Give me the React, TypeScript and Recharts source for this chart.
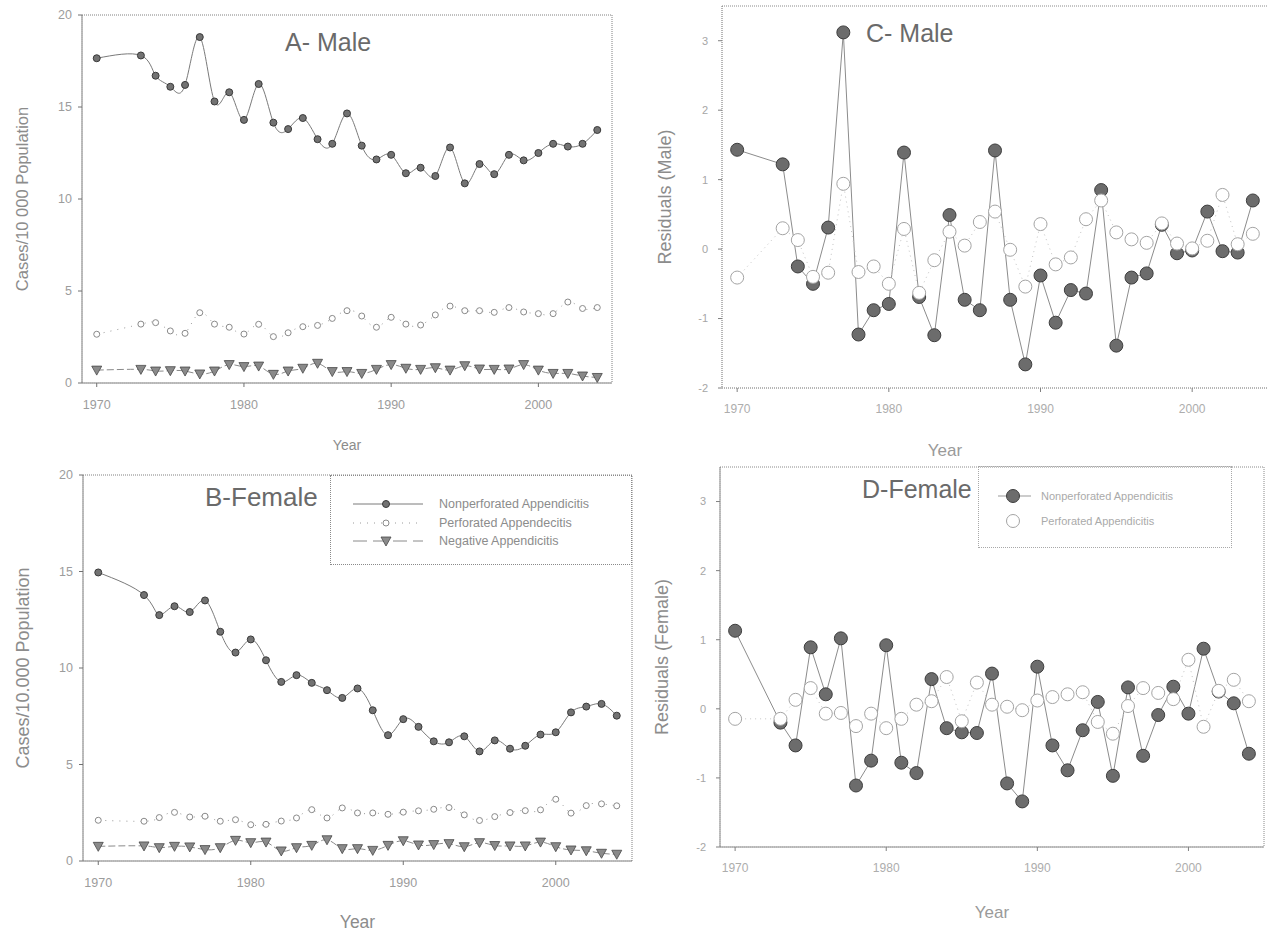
import React from "react"
import { LineChart, Line, XAxis, YAxis, ReferenceArea, ReferenceLine, Legend } from "recharts"

// years with data (1971 and 1972 are missing in the source)
const years = [
  1970, 1973, 1974, 1975, 1976, 1977, 1978, 1979, 1980, 1981, 1982, 1983, 1984, 1985, 1986, 1987, 1988,
  1989, 1990, 1991, 1992, 1993, 1994, 1995, 1996, 1997, 1998, 1999, 2000, 2001, 2002, 2003, 2004,
]

// A - male, cases / 10 000
const maleNonperf = [
  17.65, 17.8, 16.7, 16.1, 16.2, 18.8, 15.3, 15.8, 14.3, 16.25, 14.15, 13.8, 14.4, 13.25, 13.0, 14.65, 12.9,
  12.15, 12.4, 11.4, 11.7, 11.25, 12.8, 10.85, 11.9, 11.35, 12.4, 12.1, 12.5, 13.0, 12.85, 13.0, 13.75,
]
const malePerf = [
  2.65, 3.2, 3.28, 2.83, 2.7, 3.82, 3.2, 3.03, 2.66, 3.19, 2.52, 2.73, 3.06, 3.13, 3.51, 3.93, 3.64,
  3.03, 3.57, 3.2, 3.15, 3.7, 4.18, 3.93, 3.93, 3.84, 4.1, 3.86, 3.77, 3.77, 4.4, 4.05, 4.1,
]
const maleNeg = [
  0.7, 0.74, 0.65, 0.67, 0.65, 0.49, 0.65, 1.0, 0.89, 0.92, 0.47, 0.65, 0.8, 1.07, 0.62, 0.62, 0.52,
  0.74, 1.0, 0.8, 0.74, 0.83, 0.7, 0.94, 0.76, 0.74, 0.76, 1.0, 0.7, 0.52, 0.52, 0.38, 0.3,
]

// B - female, cases / 10 000
const femaleNonperf = [
  14.95, 13.78, 12.74, 13.2, 12.9, 13.5, 11.88, 10.8, 11.48, 10.4, 9.28, 9.63, 9.23, 8.85, 8.45, 8.94, 7.81,
  6.52, 7.35, 6.95, 6.2, 6.15, 6.46, 5.68, 6.25, 5.82, 5.97, 6.55, 6.67, 7.7, 8.0, 8.14, 7.53,
]
const femalePerf = [
  2.11, 2.06, 2.25, 2.52, 2.28, 2.32, 2.06, 2.14, 1.88, 1.9, 2.07, 2.23, 2.66, 2.23, 2.75, 2.49, 2.49,
  2.42, 2.53, 2.6, 2.68, 2.77, 2.39, 2.1, 2.3, 2.51, 2.61, 2.65, 3.2, 2.48, 2.87, 2.96, 2.86,
]
const femaleNeg = [
  0.76, 0.78, 0.69, 0.76, 0.73, 0.59, 0.69, 1.07, 0.95, 0.98, 0.52, 0.69, 0.81, 1.1, 0.64, 0.64, 0.55,
  0.81, 1.05, 0.83, 0.85, 0.9, 0.74, 0.95, 0.8, 0.78, 0.78, 0.98, 0.74, 0.57, 0.53, 0.4, 0.35,
]

// C - male residuals
const maleResNonperf = [
  1.43, 1.22, -0.25, -0.5, 0.31, 3.12, -1.23, -0.88, -0.79, 1.39, -0.69, -1.24, 0.49, -0.73, -0.88, 1.42, -0.73,
  -1.66, -0.38, -1.06, -0.59, -0.64, 0.85, -1.39, -0.41, -0.35, 0.35, -0.06, -0.02, 0.54, -0.03, -0.05, 0.7,
]
const maleResPerf = [
  -0.41, 0.3, 0.13, -0.4, -0.34, 0.94, -0.33, -0.25, -0.5, 0.29, -0.63, -0.16, 0.25, 0.05, 0.39, 0.54, -0.01,
  -0.54, 0.36, -0.22, -0.12, 0.43, 0.7, 0.24, 0.14, 0.09, 0.37, 0.08, 0.01, 0.12, 0.78, 0.07, 0.22,
]

// D - female residuals
const femaleResNonperf = [
  1.13, -0.2, -0.53, 0.89, 0.21, 1.02, -1.11, -0.75, 0.92, -0.78, -0.93, 0.43, -0.28, -0.34, -0.35, 0.51, -1.08,
  -1.34, 0.61, -0.53, -0.89, -0.31, 0.1, -0.97, 0.31, -0.68, -0.09, 0.32, -0.07, 0.87, 0.25, 0.08, -0.65,
]
const femaleResPerf = [
  -0.145, -0.145, 0.13, 0.3, -0.07, -0.06, -0.25, -0.07, -0.28, -0.145, 0.06, 0.11, 0.46, -0.18, 0.38, 0.06, 0.03,
  -0.02, 0.12, 0.17, 0.21, 0.24, -0.19, -0.36, 0.04, 0.3, 0.23, 0.14, 0.71, -0.26, 0.26, 0.42, 0.11,
]

const rateKeys = ["nonperf", "perf", "neg"]
const rateNames = ["Nonperforated Appendicitis", "Perforated Appendecitis", "Negative Appendicitis"]
const residualNames = ["Nonperforated Appendicitis", "Perforated Appendicitis"]
const yearTicks = [1970, 1980, 1990, 2000]
const rateTicks = [0, 5, 10, 15, 20]
const residualTicks = [-2, -1, 0, 1, 2, 3]

const font = "'Liberation Sans', Arial, Helvetica, sans-serif"
const axisStroke = { stroke: "#6e6e6e", strokeDasharray: "1 1" }

const rateRows = (a: number[], b: number[], c: number[]) =>
  years.map((year, i) => ({ year, nonperf: a[i], perf: b[i], neg: c[i] }))
const residualRows = (a: number[], b: number[]) =>
  years.map((year, i) => ({ year, nonperf: a[i], perf: b[i] }))

const smallDot = { r: 3.5, fill: "#727272", stroke: "#3a3a3a", strokeWidth: 1, strokeDasharray: "none" }
const smallOpen = { r: 3, fill: "#fff", stroke: "#8a8a8a", strokeWidth: 1, strokeDasharray: "none" }
const bigDot = { r: 6.5, fill: "#6c6c6c", stroke: "#3e3e3e", strokeWidth: 1, strokeDasharray: "none" }
const bigOpen = { r: 6.5, fill: "#fff", stroke: "#a4a4a4", strokeWidth: 1, strokeDasharray: "none" }

function Tri({ cx, cy }: { cx?: number; cy?: number }) {
  if (cx == null || cy == null) return null
  return (
    <path
      d={`M${cx - 5},${cy - 4}L${cx + 5},${cy - 4}L${cx},${cy + 5}Z`}
      fill="#8a8a8a"
      stroke="#484848"
      strokeWidth={0.8}
      strokeDasharray="none"
    />
  )
}

function RateLegendBox() {
  return (
    <div style={{ width: 302, height: 90, border: "1px dotted #8a8a8a", boxSizing: "border-box", paddingTop: 19, fontFamily: font }}>
      {rateKeys.map((key, i) => (
        <div key={key} style={{ display: "flex", alignItems: "center", height: 18.5 }}>
          <svg width={108} height={14} style={{ flex: "none" }}>
            {key === "nonperf" && (
              <g>
                <line x1={22} x2={92} y1={7} y2={7} stroke="#7a7a7a" />
                <circle cx={55} cy={7} r={3.5} fill="#727272" stroke="#3a3a3a" />
              </g>
            )}
            {key === "perf" && (
              <g>
                <line x1={22} x2={92} y1={7} y2={7} stroke="#9a9a9a" strokeDasharray="1 6" />
                <circle cx={55} cy={7} r={3} fill="#fff" stroke="#8a8a8a" />
              </g>
            )}
            {key === "neg" && (
              <g>
                <line x1={22} x2={92} y1={7} y2={7} stroke="#8a8a8a" strokeDasharray="14 6" />
                <Tri cx={55} cy={7} />
              </g>
            )}
          </svg>
          <span style={{ fontSize: 12.5, color: "#8c8c8c", whiteSpace: "nowrap" }}>{rateNames[i]}</span>
        </div>
      ))}
    </div>
  )
}

function ResidualLegendBox() {
  return (
    <div style={{ width: 254, height: 82, border: "1px dotted #a8a8a8", boxSizing: "border-box", paddingTop: 16, fontFamily: font }}>
      {residualNames.map((name, i) => (
        <div key={name} style={{ display: "flex", alignItems: "center", height: 25 }}>
          <svg width={62} height={18} style={{ flex: "none" }}>
            {i === 0 ? (
              <g>
                <line x1={19} x2={52} y1={9} y2={9} stroke="#999" />
                <circle cx={34} cy={9} r={6.5} fill="#6c6c6c" stroke="#3e3e3e" />
              </g>
            ) : (
              <circle cx={34} cy={9} r={6.5} fill="#fff" stroke="#a4a4a4" />
            )}
          </svg>
          <span style={{ fontSize: 11, color: "#aaaaaa", whiteSpace: "nowrap" }}>{name}</span>
        </div>
      ))}
    </div>
  )
}

type Box = { left: number; top: number; width: number; height: number }
type Margin = { top: number; right: number; left: number; bottom: number }

function RatePanel(props: {
  rows: any[]; box: Box; margin: Margin; yWidth: number; xHeight: number
  yTitle: string; yTitleSize: number; yTitleOffset: number
  yearSize: number; yearOffset: number; legend?: boolean
}) {
  const { rows, box, margin, yWidth, xHeight, yTitle, yTitleSize, yTitleOffset, yearSize, yearOffset, legend } = props
  return (
    <div style={{ position: "absolute", left: box.left, top: box.top }}>
      <LineChart width={box.width} height={box.height} data={rows} margin={margin}>
        <XAxis
          type="number" dataKey="year" domain={[1969, 2005]} ticks={yearTicks} allowDataOverflow
          height={xHeight} tickSize={4} tickMargin={13}
          tick={{ fill: "#9c9c9c", fontSize: 12.5 }}
          axisLine={axisStroke} tickLine={{ stroke: "#707070" }}
          label={{ value: "Year", position: "insideBottom", offset: yearOffset, fill: "#8c8c8c", fontSize: yearSize }}
        />
        <YAxis
          type="number" domain={[0, 20]} ticks={rateTicks} allowDataOverflow
          width={yWidth} tickSize={4} tickMargin={6}
          tick={{ fill: "#9c9c9c", fontSize: 12.5 }}
          axisLine={axisStroke} tickLine={{ stroke: "#707070" }}
          label={{
            value: yTitle, angle: -90, position: "insideLeft", offset: yTitleOffset,
            fill: "#8c8c8c", fontSize: yTitleSize, style: { textAnchor: "middle" },
          }}
        />
        <ReferenceArea x1={1969} x2={2005} y1={0} y2={20} fill="none" stroke="#808080" strokeDasharray="1 1" ifOverflow="visible" />
        <Line type="natural" dataKey="nonperf" name={rateNames[0]} stroke="#7a7a7a" strokeWidth={1} dot={smallDot} isAnimationActive={false} />
        <Line type="natural" dataKey="perf" name={rateNames[1]} stroke="#9a9a9a" strokeWidth={1} strokeDasharray="1 6" dot={smallOpen} isAnimationActive={false} />
        <Line
          type="natural" dataKey="neg" name={rateNames[2]} stroke="#8a8a8a" strokeWidth={1} strokeDasharray="7 3"
          dot={(p: any) => <Tri key={`tri-${p.index}`} cx={p.cx} cy={p.cy} />}
          isAnimationActive={false}
        />
        {legend && (
          <Legend
            layout="horizontal" verticalAlign="middle" align="center"
            wrapperStyle={{ left: 330, top: 15, width: 302, height: 90 }}
            content={() => <RateLegendBox />}
          />
        )}
      </LineChart>
    </div>
  )
}

function ResidualPanel(props: {
  rows: any[]; box: Box; margin: Margin; yWidth: number; xHeight: number
  yTitle: string; yTitleOffset: number; yearOffset: number; yearDx: number
  frame: boolean; legend?: boolean
}) {
  const { rows, box, margin, yWidth, xHeight, yTitle, yTitleOffset, yearOffset, yearDx, frame, legend } = props
  return (
    <div style={{ position: "absolute", left: box.left, top: box.top }}>
      <LineChart width={box.width} height={box.height} data={rows} margin={margin}>
        <XAxis
          type="number" dataKey="year" domain={[1969, 2005]} ticks={yearTicks} allowDataOverflow
          height={xHeight} tickSize={4} tickMargin={12}
          tick={{ fill: "#adadad", fontSize: 12 }}
          axisLine={axisStroke} tickLine={{ stroke: "#808080" }}
          label={{ value: "Year", position: "insideBottom", offset: yearOffset, dx: yearDx, fill: "#9a9a9a", fontSize: 17 }}
        />
        <YAxis
          type="number" domain={[-2, 3.5]} ticks={residualTicks} allowDataOverflow
          width={yWidth} tickSize={4} tickMargin={10}
          tick={{ fill: "#a6a6a6", fontSize: 11 }}
          axisLine={axisStroke} tickLine={{ stroke: "#808080" }}
          label={{
            value: yTitle, angle: -90, position: "insideLeft", offset: yTitleOffset,
            fill: "#8c8c8c", fontSize: 18, style: { textAnchor: "middle" },
          }}
        />
        {frame ? (
          <ReferenceArea x1={1969} x2={2005} y1={-2} y2={3.5} fill="none" stroke="#8a8a8a" strokeDasharray="1 1" ifOverflow="visible" />
        ) : (
          <ReferenceLine y={3.5} stroke="#8a8a8a" strokeDasharray="1 1" ifOverflow="visible" />
        )}
        <Line type="linear" dataKey="nonperf" name={residualNames[0]} stroke="#8c8c8c" strokeWidth={1} dot={bigDot} isAnimationActive={false} />
        <Line type="linear" dataKey="perf" name={residualNames[1]} stroke="#c4c4c4" strokeWidth={1} strokeDasharray="1 4" dot={bigOpen} isAnimationActive={false} />
        {legend && (
          <Legend
            layout="horizontal" verticalAlign="middle" align="center"
            wrapperStyle={{ left: 338, top: 6, width: 254, height: 82 }}
            content={() => <ResidualLegendBox />}
          />
        )}
      </LineChart>
    </div>
  )
}

const titleStyle = (left: number, top: number, size: number): React.CSSProperties => ({
  position: "absolute", left, top, fontSize: size, lineHeight: `${size}px`, color: "#6a6a6a", whiteSpace: "nowrap",
})

export default function App() {
  return (
    <div style={{ position: "absolute", left: 0, top: 0, width: 1268, height: 934, background: "#fff", fontFamily: font, overflow: "hidden" }}>
      <RatePanel
        rows={rateRows(maleNonperf, malePerf, maleNeg)}
        box={{ left: 0, top: 0, width: 640, height: 460 }}
        margin={{ top: 15, right: 28, left: 5, bottom: 0 }}
        yWidth={77} xHeight={77}
        yTitle="Cases/10 000 Population" yTitleSize={16.5} yTitleOffset={17}
        yearSize={14} yearOffset={10}
      />
      <RatePanel
        rows={rateRows(femaleNonperf, femalePerf, femaleNeg)}
        box={{ left: 0, top: 460, width: 640, height: 474 }}
        margin={{ top: 15, right: 8, left: 5, bottom: 0 }}
        yWidth={78} xHeight={73}
        yTitle="Cases/10.000 Population" yTitleSize={18} yTitleOffset={18}
        yearSize={17.5} yearOffset={6}
        legend
      />
      <ResidualPanel
        rows={residualRows(maleResNonperf, maleResPerf)}
        box={{ left: 640, top: 0, width: 628, height: 460 }}
        margin={{ top: 6, right: 0, left: 5, bottom: 0 }}
        yWidth={77} xHeight={72}
        yTitle="Residuals (Male)" yTitleOffset={20}
        yearOffset={4} yearDx={-50} frame={false}
      />
      <ResidualPanel
        rows={residualRows(femaleResNonperf, femaleResPerf)}
        box={{ left: 640, top: 460, width: 628, height: 474 }}
        margin={{ top: 7, right: 4, left: 5, bottom: 0 }}
        yWidth={75} xHeight={87}
        yTitle="Residuals (Female)" yTitleOffset={17}
        yearOffset={16} yearDx={0} frame
        legend
      />
      <div style={titleStyle(285, 30, 25)}>A- Male</div>
      <div style={titleStyle(205, 484, 26)}>B-Female</div>
      <div style={titleStyle(866, 21, 25)}>C- Male</div>
      <div style={titleStyle(862, 477, 25)}>D-Female</div>
    </div>
  )
}
